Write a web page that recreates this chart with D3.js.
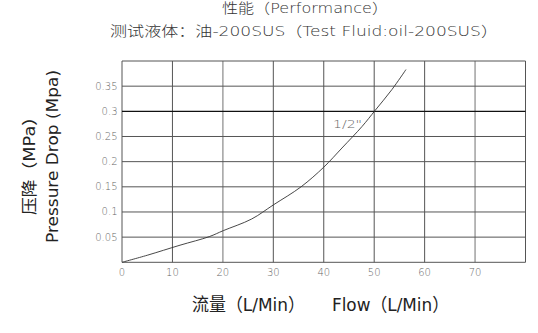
<!DOCTYPE html>
<html>
<head>
<meta charset="utf-8">
<script src="https://cdn.jsdelivr.net/npm/d3@7"></script>
<style>
    body { margin: 0; background: #fff; }
    text { font-family: "DejaVu Sans", "Noto Sans CJK SC", sans-serif; }
    .tick-lbl { fill: #666; font-size: 10px; font-family: "DejaVu Sans", sans-serif; font-weight: 200; }
</style>
</head>
<body>
<div class="mainView"></div>
<script>
    // flow (L/Min) vs pressure drop (MPa), 1/2" curve
    let flowVals = [0, 5, 11.5, 17.3, 20.1, 25.7, 30, 35.5, 40, 43.6, 47.6, 50.2, 53.5, 56.3]
    let dropVals = [0, 0.014, 0.034, 0.051, 0.063, 0.086, 0.114, 0.150, 0.189, 0.227, 0.27, 0.302, 0.343, 0.383]
    let xTicks = [0, 10, 20, 30, 40, 50, 60, 70]
    let yTicks = [0.05, 0.1, 0.15, 0.2, 0.25, 0.3, 0.35]
    let xGrid = [0, 10, 20, 30, 40, 50, 60, 70, 80]
    let yGrid = [0, 0.05, 0.1, 0.15, 0.2, 0.25, 0.3, 0.35, 0.4]

    let width = 538, height = 333
    let svg = d3.select(".mainView").append("svg")
        .attr("width", width).attr("height", height)

    let xScale = d3.scaleLinear().domain([0, 80]).range([122, 525.5])
    let yScale = d3.scaleLinear().domain([0, 0.4]).range([262.3, 61])

    // grid
    xGrid.forEach(v => {
        let light = (v == 20 || v == 70)
        svg.append("line")
            .attr("x1", xScale(v)).attr("x2", xScale(v))
            .attr("y1", yScale(0)).attr("y2", yScale(0.4))
            .style("stroke", light ? "#a0a0a0" : "#555")
            .style("stroke-width", light ? 1.5 : 1)
    })
    yGrid.forEach(v => {
        let dark = (v == 0.3)
        svg.append("line")
            .attr("x1", xScale(0)).attr("x2", xScale(80))
            .attr("y1", yScale(v)).attr("y2", yScale(v))
            .style("stroke", dark ? "#111" : "#555")
            .style("stroke-width", dark ? 1.3 : 1)
    })

    // tick labels
    xTicks.forEach(v => {
        svg.append("text").attr("class", "tick-lbl")
            .attr("x", xScale(v)).attr("y", 275.5)
            .attr("text-anchor", "middle")
            .text(v)
    })
    yTicks.forEach(v => {
        svg.append("text").attr("class", "tick-lbl")
            .attr("x", 117.5).attr("y", yScale(v) + 3.5)
            .attr("text-anchor", "end")
            .text(v)
    })

    // curve
    let pts = flowVals.map((f, i) => [f, dropVals[i]])
    let line = d3.line()
        .x(d => xScale(d[0]))
        .y(d => yScale(d[1]))
        .curve(d3.curveCatmullRom)
    svg.append("path")
        .attr("d", line(pts))
        .style("fill", "none")
        .style("stroke", "#333")
        .style("stroke-width", 0.9)

    svg.append("text").attr("class", "tick-lbl")
        .attr("x", 333).attr("y", 128)
        .style("font-size", "10.5px")
        .attr("textLength", 29).attr("lengthAdjust", "spacingAndGlyphs")
        .text("1/2\"")

    // titles
    function label(txt, x, y, size, len, color, weight) {
        return svg.append("text")
            .attr("x", x).attr("y", y)
            .attr("textLength", len).attr("lengthAdjust", "spacingAndGlyphs")
            .style("font-size", size + "px").style("fill", color)
            .style("font-weight", weight)
            .text(txt)
    }
    label("性能（Performance）", 222, 13, 14, 166, "#333", 200)
    label("测试液体：油-200SUS（Test Fluid:oil-200SUS）", 110, 36, 14, 388, "#333", 200)

    label("流量（L/Min）", 192, 311, 18, 113, "#222", 400)
    label("Flow（L/Min）", 332, 311, 18, 117, "#222", 400)

    svg.append("text")
        .attr("transform", "translate(35,215) rotate(-90)")
        .attr("textLength", 107).attr("lengthAdjust", "spacingAndGlyphs")
        .style("font-size", "16px").style("fill", "#222")
        .text("压降（MPa）")
    svg.append("text")
        .attr("transform", "translate(58,243) rotate(-90)")
        .attr("textLength", 173).attr("lengthAdjust", "spacingAndGlyphs")
        .style("font-size", "15.5px").style("fill", "#222")
        .text("Pressure Drop (Mpa)")
</script>
</body>
</html>
